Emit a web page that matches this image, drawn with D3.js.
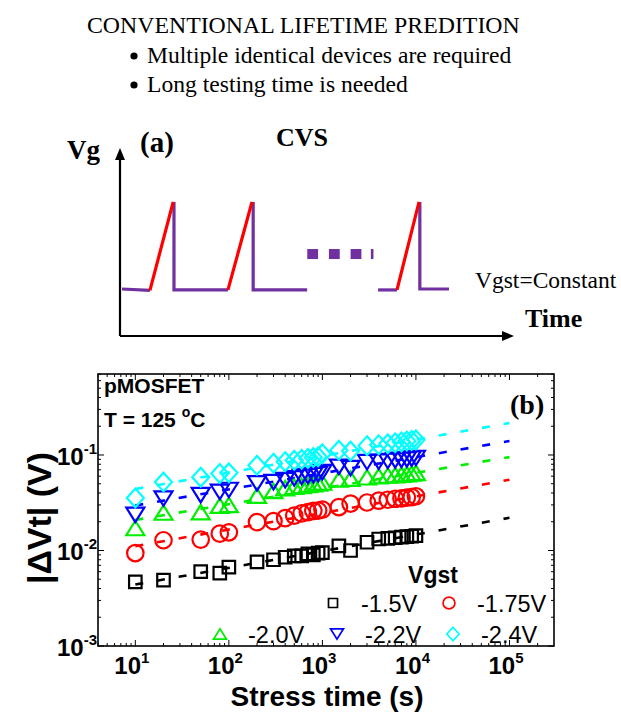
<!DOCTYPE html>
<html>
<head>
<meta charset="utf-8">
<script src="https://cdn.jsdelivr.net/npm/d3@7"></script>
<style>
  body { margin: 0; background: #fff; }
  svg { display: block; }
</style>
</head>
<body>
<svg id="chart" width="621" height="713"></svg>
<script>
// ---------- data: panel (b) threshold-voltage shift vs. stress time ----------
const stressTimes = [10, 20, 50, 80, 100, 200, 300, 400, 500, 600, 700, 800, 900,
  1000, 1500, 2000, 3000, 4000, 5000, 6000, 7000, 8000, 9000, 10000];

const dvtVg15 = [0.0047, 0.0049, 0.0060, 0.0058, 0.0067, 0.0076, 0.0080, 0.0085, 0.0088, 0.0088,
  0.0092, 0.0090, 0.0094, 0.0095, 0.0112, 0.0100, 0.0122, 0.0132, 0.0134, 0.0136, 0.0138, 0.0140, 0.0141, 0.0143];
const dvtVg175 = [0.0094, 0.0128, 0.0130, 0.0150, 0.0155, 0.0198, 0.0203, 0.0218, 0.0232, 0.0245,
  0.0252, 0.0260, 0.0262, 0.0268, 0.0285, 0.0310, 0.0318, 0.0332, 0.0340, 0.0348, 0.0352, 0.0358, 0.0362, 0.0370];
const dvtVg20 = [0.0172, 0.0250, 0.0252, 0.0295, 0.0300, 0.0375, 0.0420, 0.0450, 0.0465, 0.0475,
  0.0485, 0.0495, 0.0505, 0.0515, 0.0555, 0.0565, 0.0585, 0.0600, 0.0610, 0.0615, 0.0622, 0.0630, 0.0640, 0.0650];
const dvtVg22 = [0.0236, 0.0350, 0.0380, 0.0410, 0.0430, 0.0505, 0.0520, 0.0545, 0.0570, 0.0590,
  0.0600, 0.0615, 0.0630, 0.0660, 0.0750, 0.0730, 0.0840, 0.0850, 0.0865, 0.0880, 0.0890, 0.0900, 0.0915, 0.0930];
const dvtVg24 = [0.0355, 0.0520, 0.0585, 0.0640, 0.0650, 0.0780, 0.0820, 0.0850, 0.0880, 0.0900,
  0.0920, 0.0940, 0.0960, 0.1030, 0.1120, 0.1100, 0.1250, 0.1280, 0.1310, 0.1340, 0.1370, 0.1400, 0.1420, 0.1440];

// power-law extrapolation lines (end points)
const fitTimes = [10, 100000];
const fitVg15 = [0.0044, 0.022];
const fitVg175 = [0.0111, 0.055];
const fitVg20 = [0.0209, 0.095];
const fitVg22 = [0.0296, 0.140];
const fitVg24 = [0.044, 0.216];

const seriesLabels = ["-1.5V", "-1.75V", "-2.0V", "-2.2V", "-2.4V"];
const seriesColors = ["#000000", "#ff0000", "#00ee00", "#0000ff", "#00ffff"];
const seriesSymbols = ["square", "circle", "triUp", "triDown", "diamond"];

const xTickExps = [1, 2, 3, 4, 5];
const yTickExps = [-3, -2, -1];

// ---------- data: panel (a) schematic waveform (time units 0-100, Vg 0-1) ----------
const flatSegments = [
  [[0.5, 0.250], [7.6, 0.243]],
  [[13.7, 0.713], [13.7, 0.245], [27.4, 0.245]],
  [[33.8, 0.713], [33.8, 0.245], [47.5, 0.245]],
  [[65.5, 0.245], [70.3, 0.245]],
  [[76.1, 0.713], [76.1, 0.250], [83.5, 0.250]]
];
const rampSegments = [
  [[7.6, 0.243], [13.5, 0.713]],
  [[27.4, 0.245], [33.5, 0.713]],
  [[70.3, 0.245], [75.9, 0.713]]
];
const dotCenters = [48.9, 54.4, 59.9];
const dotPartial = 64.0;
const dotLevel = 0.436;

const svg = d3.select("#chart");
const SANS = "'Liberation Sans', Arial, sans-serif";
const SERIF = "'Liberation Serif', 'Times New Roman', serif";

// ---------- heading ----------
svg.append("text").attr("x", 87).attr("y", 33)
  .attr("font-family", SERIF).attr("font-size", 23.8)
  .text("CONVENTIONAL LIFETIME PREDITION");
[["Multiple identical devices are required", 63], ["Long testing time is needed", 92]].forEach(([t, y]) => {
  svg.append("circle").attr("cx", 134).attr("cy", y - 7).attr("r", 3.6).attr("fill", "#000");
  svg.append("text").attr("x", 147).attr("y", y)
    .attr("font-family", SERIF).attr("font-size", 23.6).text(t);
});

// ---------- panel (a) ----------
const xa = d3.scaleLinear().domain([0, 100]).range([120, 514]);
const ya = d3.scaleLinear().domain([0, 1]).range([336, 148]);
const la = d3.line().x(d => xa(d[0])).y(d => ya(d[1]));

const ga = svg.append("g");
ga.append("line").attr("x1", xa(0)).attr("y1", ya(0)).attr("x2", xa(0)).attr("y2", ya(0.96))
  .attr("stroke", "#000").attr("stroke-width", 2.2);
ga.append("line").attr("x1", xa(0)).attr("y1", ya(0)).attr("x2", xa(98)).attr("y2", ya(0))
  .attr("stroke", "#000").attr("stroke-width", 2.2);
ga.append("path").attr("d", `M${xa(0)},${ya(1)} L${xa(0) - 5},${ya(1) + 12} L${xa(0) + 5},${ya(1) + 12} Z`).attr("fill", "#000");
ga.append("path").attr("d", `M${xa(100)},${ya(0)} L${xa(100) - 12},${ya(0) - 5} L${xa(100) - 12},${ya(0) + 5} Z`).attr("fill", "#000");

ga.selectAll("path.flat").data(flatSegments).join("path").attr("class", "flat")
  .attr("d", la).attr("fill", "none").attr("stroke", "#7030a0").attr("stroke-width", 3.2);
ga.selectAll("path.ramp").data(rampSegments).join("path").attr("class", "ramp")
  .attr("d", la).attr("fill", "none").attr("stroke", "#ff0000").attr("stroke-width", 3.2);
ga.selectAll("rect.dot").data(dotCenters).join("rect").attr("class", "dot")
  .attr("x", d => xa(d) - 5.4).attr("y", ya(dotLevel) - 5).attr("width", 10.8).attr("height", 10)
  .attr("fill", "#7030a0");
ga.append("rect").attr("x", xa(dotPartial) - 1.3).attr("y", ya(dotLevel) - 5).attr("width", 2.6).attr("height", 10)
  .attr("fill", "#7030a0");

ga.append("text").attr("x", 67).attr("y", 159).attr("font-family", SERIF).attr("font-weight", "bold")
  .attr("font-size", 27).text("Vg");
ga.append("text").attr("x", 140).attr("y", 152).attr("font-family", SERIF).attr("font-weight", "bold")
  .attr("font-size", 29).text("(a)");
ga.append("text").attr("x", 276).attr("y", 146).attr("font-family", SERIF).attr("font-weight", "bold")
  .attr("font-size", 26).text("CVS");
ga.append("text").attr("x", 475).attr("y", 288).attr("font-family", SERIF)
  .attr("font-size", 23.5).text("Vgst=Constant");
ga.append("text").attr("x", 525).attr("y", 327).attr("font-family", SERIF).attr("font-weight", "bold")
  .attr("font-size", 26).text("Time");

// ---------- panel (b) ----------
const L = 98, R = 554, T = 374, B = 646;
const x = d3.scaleLog().domain([Math.pow(10, 0.601), Math.pow(10, 5.476)]).range([L, R]);
const y = d3.scaleLog().domain([1e-3, Math.pow(10, -0.152)]).range([B, T]);

const gb = svg.append("g");

// minor and major ticks on all four sides, pointing inward
const xMinor = [], yMinor = [];
for (let e = 0; e <= 5; e++) for (let m = 1; m <= 9; m++) {
  const v = m * Math.pow(10, e);
  if (v >= x.domain()[0] && v <= x.domain()[1]) xMinor.push({ v, major: m === 1 });
}
for (let e = -3; e <= -1; e++) for (let m = 1; m <= 9; m++) {
  const v = m * Math.pow(10, e);
  if (v >= y.domain()[0] && v <= y.domain()[1]) yMinor.push({ v, major: m === 1 });
}
gb.selectAll("line.xt").data(xMinor).join("line").attr("class", "xt")
  .attr("x1", d => x(d.v)).attr("x2", d => x(d.v)).attr("y1", B).attr("y2", d => B - (d.major ? 6 : 3))
  .attr("stroke", "#000").attr("stroke-width", 1);
gb.selectAll("line.xtt").data(xMinor).join("line").attr("class", "xtt")
  .attr("x1", d => x(d.v)).attr("x2", d => x(d.v)).attr("y1", T).attr("y2", d => T + (d.major ? 6 : 3))
  .attr("stroke", "#000").attr("stroke-width", 1);
gb.selectAll("line.yt").data(yMinor).join("line").attr("class", "yt")
  .attr("y1", d => y(d.v)).attr("y2", d => y(d.v)).attr("x1", L).attr("x2", d => L + (d.major ? 6 : 3))
  .attr("stroke", "#000").attr("stroke-width", 1);
gb.selectAll("line.ytr").data(yMinor).join("line").attr("class", "ytr")
  .attr("y1", d => y(d.v)).attr("y2", d => y(d.v)).attr("x1", R).attr("x2", d => R - (d.major ? 6 : 3))
  .attr("stroke", "#000").attr("stroke-width", 1);

gb.append("rect").attr("x", L).attr("y", T).attr("width", R - L).attr("height", B - T)
  .attr("fill", "none").attr("stroke", "#000").attr("stroke-width", 1.6);

// tick labels
gb.selectAll("text.xl").data(xTickExps).join("text").attr("class", "xl")
  .attr("x", d => x(Math.pow(10, d)) - 21).attr("y", 674)
  .attr("font-family", SANS).attr("font-weight", "bold").attr("font-size", 24)
  .each(function (d) {
    const t = d3.select(this);
    t.append("tspan").text("10");
    t.append("tspan").attr("dy", -11).attr("font-size", 15).text(d);
  });
gb.selectAll("text.yl").data(yTickExps).join("text").attr("class", "yl")
  .attr("x", 97).attr("y", d => y(Math.pow(10, d)) + 10).attr("text-anchor", "end")
  .attr("font-family", SANS).attr("font-weight", "bold").attr("font-size", 24)
  .each(function (d) {
    const t = d3.select(this);
    t.append("tspan").text("10");
    t.append("tspan").attr("dy", -11).attr("font-size", 15).text(d);
  });

// axis titles
gb.append("text").attr("x", 327).attr("y", 706).attr("text-anchor", "middle")
  .attr("font-family", SANS).attr("font-weight", "bold").attr("font-size", 28)
  .text("Stress time (s)");
gb.append("text").attr("transform", "translate(51,518) rotate(-90)").attr("text-anchor", "middle")
  .attr("font-family", SANS).attr("font-weight", "bold").attr("font-size", 34)
  .text("|\u0394Vt| (V)");

// annotations
gb.append("text").attr("x", 104).attr("y", 393).attr("font-family", SANS).attr("font-weight", "bold")
  .attr("font-size", 21).text("pMOSFET");
const tt = gb.append("text").attr("x", 104).attr("y", 427).attr("font-family", SANS).attr("font-weight", "bold")
  .attr("font-size", 21);
tt.append("tspan").text("T = 125 ");
tt.append("tspan").attr("dy", -10).attr("font-size", 14).text("o");
tt.append("tspan").attr("dy", 10).text("C");
gb.append("text").attr("x", 510).attr("y", 414).attr("font-family", SERIF).attr("font-weight", "bold")
  .attr("font-size", 28).text("(b)");

// marker shapes
function symbolPath(kind, s) {
  switch (kind) {
    case "square": return `M${-s * 0.5},${-s * 0.5}h${s}v${s}h${-s}Z`;
    case "circle": { const r = s * 0.66; return `M${-r},0a${r},${r} 0 1,0 ${2 * r},0a${r},${r} 0 1,0 ${-2 * r},0Z`; }
    case "triUp": return `M${-s * 0.72},${s * 0.58}L${s * 0.72},${s * 0.58}L0,${-s * 0.58}Z`;
    case "triDown": return `M${-s * 0.72},${-s * 0.58}L${s * 0.72},${-s * 0.58}L0,${s * 0.58}Z`;
    case "diamond": return `M0,${-s * 0.75}L${s * 0.68},0L0,${s * 0.75}L${-s * 0.68},0Z`;
  }
}

const seriesValues = [dvtVg15, dvtVg175, dvtVg20, dvtVg22, dvtVg24];
const fitValues = [fitVg15, fitVg175, fitVg20, fitVg22, fitVg24];
const lb = d3.line().x(d => x(d[0])).y(d => y(d[1]));

fitValues.forEach((f, i) => {
  gb.append("path").datum(fitTimes.map((t, k) => [t, f[k]]))
    .attr("d", lb).attr("fill", "none").attr("stroke", seriesColors[i])
    .attr("stroke-width", 2.6).attr("stroke-dasharray", "8,14");
});

seriesValues.forEach((vals, i) => {
  gb.append("g").selectAll("path").data(stressTimes.map((t, k) => [t, vals[k]])).join("path")
    .attr("transform", d => `translate(${x(d[0])},${y(d[1])})`)
    .attr("d", symbolPath(seriesSymbols[i], 12.5))
    .attr("fill", "none").attr("stroke", seriesColors[i]).attr("stroke-width", 2.2);
});

// legend
gb.append("text").attr("x", 433).attr("y", 583).attr("text-anchor", "middle")
  .attr("font-family", SANS).attr("font-weight", "bold").attr("font-size", 23).text("Vgst");
const legendPos = [[333, 603], [449, 603], [220, 634], [337, 634], [453, 634]];
seriesLabels.forEach((lab, i) => {
  const [lx, ly] = legendPos[i];
  gb.append("path").attr("transform", `translate(${lx},${ly})`)
    .attr("d", symbolPath(seriesSymbols[i], 9))
    .attr("fill", "none").attr("stroke", seriesColors[i]).attr("stroke-width", 1.7);
  gb.append("text").attr("x", lx + 28).attr("y", ly + 9)
    .attr("font-family", SANS).attr("font-size", 23.5).text(lab);
});
</script>
</body>
</html>
